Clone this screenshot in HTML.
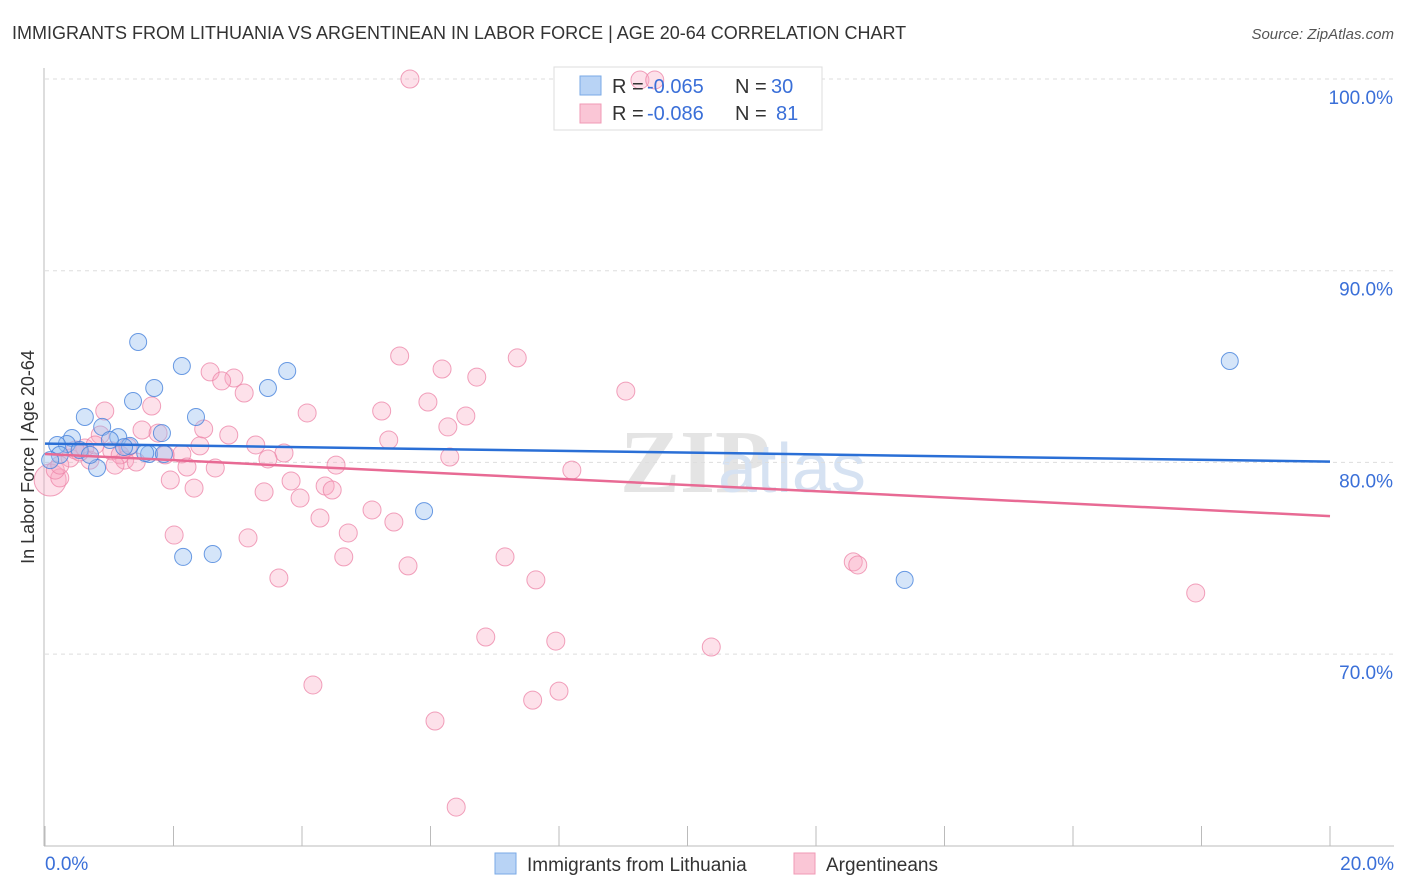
<!DOCTYPE html>
<html><head><meta charset="utf-8">
<style>
body{margin:0;background:#fff;font-family:"Liberation Sans",sans-serif;}
#wrap{position:relative;width:1406px;height:892px;overflow:hidden;}
</style></head>
<body>
<div id="wrap">
<svg id="svg" width="1406" height="892" xmlns="http://www.w3.org/2000/svg">
<text x="12" y="39" font-size="18" fill="#333">IMMIGRANTS FROM LITHUANIA VS ARGENTINEAN IN LABOR FORCE | AGE 20-64 CORRELATION CHART</text>
<text x="1394" y="39" font-size="15" fill="#555" font-style="italic" text-anchor="end">Source: ZipAtlas.com</text>
<text x="620" y="492" font-size="90" fill="#e4e4e4" font-family="Liberation Serif,serif" font-weight="bold">ZIP</text>
<text x="718" y="492" font-size="70" fill="#d6e2f2">atlas</text>
<text transform="translate(34,457) rotate(-90)" font-size="18" fill="#333" text-anchor="middle">In Labor Force | Age 20-64</text>
<g id="grid"></g><g id="ticks"></g>
<rect x="554" y="67" width="268" height="63" fill="#fff" stroke="#ddd"/>
<g id="lines"></g><g id="pts"></g>
<g>
<rect x="580" y="76" width="21" height="19" fill="#b8d3f5" stroke="#7aaae6"/>
<rect x="580" y="104" width="21" height="19" fill="#fac6d6" stroke="#f09ab5"/>
<text x="612" y="93" font-size="20" fill="#333">R =</text>
<text x="647" y="93" font-size="20" fill="#3a6fd8">-0.065</text>
<text x="735" y="93" font-size="20" fill="#333">N =</text>
<text x="771" y="93" font-size="20" fill="#3a6fd8">30</text>
<text x="612" y="120" font-size="20" fill="#333">R =</text>
<text x="647" y="120" font-size="20" fill="#3a6fd8">-0.086</text>
<text x="735" y="120" font-size="20" fill="#333">N =</text>
<text x="776" y="120" font-size="20" fill="#3a6fd8">81</text>
</g>
<g>
<rect x="495" y="853" width="21" height="21" fill="#b8d3f5" stroke="#7aaae6"/>
<text x="527" y="871" font-size="19" fill="#333">Immigrants from Lithuania</text>
<rect x="794" y="853" width="21" height="21" fill="#fac6d6" stroke="#f09ab5"/>
<text x="826" y="871" font-size="19" fill="#333">Argentineans</text>
</g>
</svg>
</div>
<script>
const yTicks=[100,90,80,70];
const xTickLabels=["0.0%","20.0%"];
const blueX=[1.45,2.13,1.7,1.37,2.35,0.62,3.47,3.77,1.14,1.82,0.89,0.42,0.34,0.19,1.32,1.23,1.62,1.85,0.81,2.15,2.61,5.9,13.38,18.44,0.54,1.01,0.7,0.23,0.08,1.56];
const blueY=[86.28,85.03,83.88,83.2,82.37,82.37,83.88,84.77,81.32,81.53,81.85,81.27,80.96,80.91,80.86,80.8,80.44,80.44,79.71,75.07,75.22,77.46,73.87,85.29,80.65,81.17,80.39,80.39,80.12,80.49];
const blueLine=[80.98,80.04];
const pinkX=[5.68,9.26,9.49,5.52,7.35,2.57,2.94,2.75,6.18,6.72,3.1,9.04,5.96,1.66,0.93,4.08,5.24,6.55,6.27,2.47,2.86,1.51,1.76,0.86,5.35,3.28,3.72,2.41,2.13,1.04,1.87,3.47,1.24,1.42,6.3,4.53,2.21,2.65,8.2,1.95,3.83,4.36,2.32,3.41,4.47,3.97,5.09,5.43,4.28,4.72,2.01,3.16,4.65,7.16,5.65,3.64,7.64,12.58,12.65,17.91,6.86,7.95,10.37,4.17,8.0,7.59,6.07,6.4,0.08,0.23,0.16,0.62,0.7,1.17,1.29,0.39,0.54,1.09,0.78,0.23,0.47];
const pinkY=[100,99.95,99.95,85.55,85.45,84.72,84.4,84.25,84.87,84.45,83.62,83.72,83.15,82.94,82.68,82.58,82.68,82.42,81.85,81.74,81.43,81.69,81.53,81.43,81.17,80.91,80.49,80.86,80.44,80.6,80.39,80.18,80.12,80.02,80.28,79.86,79.76,79.71,79.6,79.08,79.03,78.77,78.66,78.46,78.56,78.14,77.52,76.89,77.1,76.32,76.21,76.06,75.07,75.07,74.6,73.97,73.87,74.81,74.65,73.19,70.89,70.68,70.37,68.39,68.07,67.6,66.51,62.02,79.08,79.19,79.6,80.75,80.12,80.39,80.8,80.23,80.54,79.86,80.91,79.86,80.65];
const pinkLine=[80.44,77.2];
const NS="http://www.w3.org/2000/svg";
const X0=45,X1=1330,XMAX=20;
const sx=v=>X0+v/XMAX*(X1-X0);
const sy=v=>79+(100-v)*19.17;
function mk(tag,attrs,parent){const e=document.createElementNS(NS,tag);for(const k in attrs)e.setAttribute(k,attrs[k]);document.getElementById(parent).appendChild(e);return e;}
yTicks.forEach(t=>{
 const g=mk('line',{x1:45,x2:1394,y1:sy(t),y2:sy(t),stroke:'#ddd','stroke-dasharray':'4,4'},'grid');
 
 
 const l=mk('text',{x:1393,y:sy(t)+25,'font-size':19,fill:'#3a6fd8','text-anchor':'end'},'ticks');
 l.textContent=t.toFixed(1)+'%';
 
 
});
const ax=mk('line',{x1:44,x2:44,y1:68,y2:846,stroke:'#bbb'},'ticks');


const bx=mk('line',{x1:44,x2:1394,y1:846,y2:846,stroke:'#bbb'},'ticks');


for(let i=0;i<=10;i++){
 const t=mk('line',{x1:sx(i*2),x2:sx(i*2),y1:826,y2:846,stroke:'#bbb'},'ticks');
 
 
}
[[0,'start',45],[1,'end',1394]].forEach(([i,a,x])=>{
 const t=mk('text',{x:x,y:870,'font-size':19,fill:'#3a6fd8','text-anchor':a},'ticks');
 t.textContent=xTickLabels[i];
 
 
});
pinkX.forEach((v,i)=>{
 const c=mk('circle',{cx:sx(v),cy:sy(pinkY[i]),r:i==68?16:9,fill:'rgba(248,170,195,0.35)',stroke:'rgba(236,130,165,0.75)','stroke-width':1},'pts');
 
 
});
blueX.forEach((v,i)=>{
 const c=mk('circle',{cx:sx(v),cy:sy(blueY[i]),r:8.5,fill:'rgba(150,190,240,0.4)',stroke:'rgba(70,130,220,0.8)','stroke-width':1},'pts');
 
 
});
const bl=mk('line',{x1:sx(0),x2:sx(20),y1:sy(blueLine[0]),y2:sy(blueLine[1]),stroke:'#2a6fd6','stroke-width':2.5},'pts');


const pl=mk('line',{x1:sx(0),x2:sx(20),y1:sy(pinkLine[0]),y2:sy(pinkLine[1]),stroke:'#e86a94','stroke-width':2.5},'pts');


</script>
</body></html>
